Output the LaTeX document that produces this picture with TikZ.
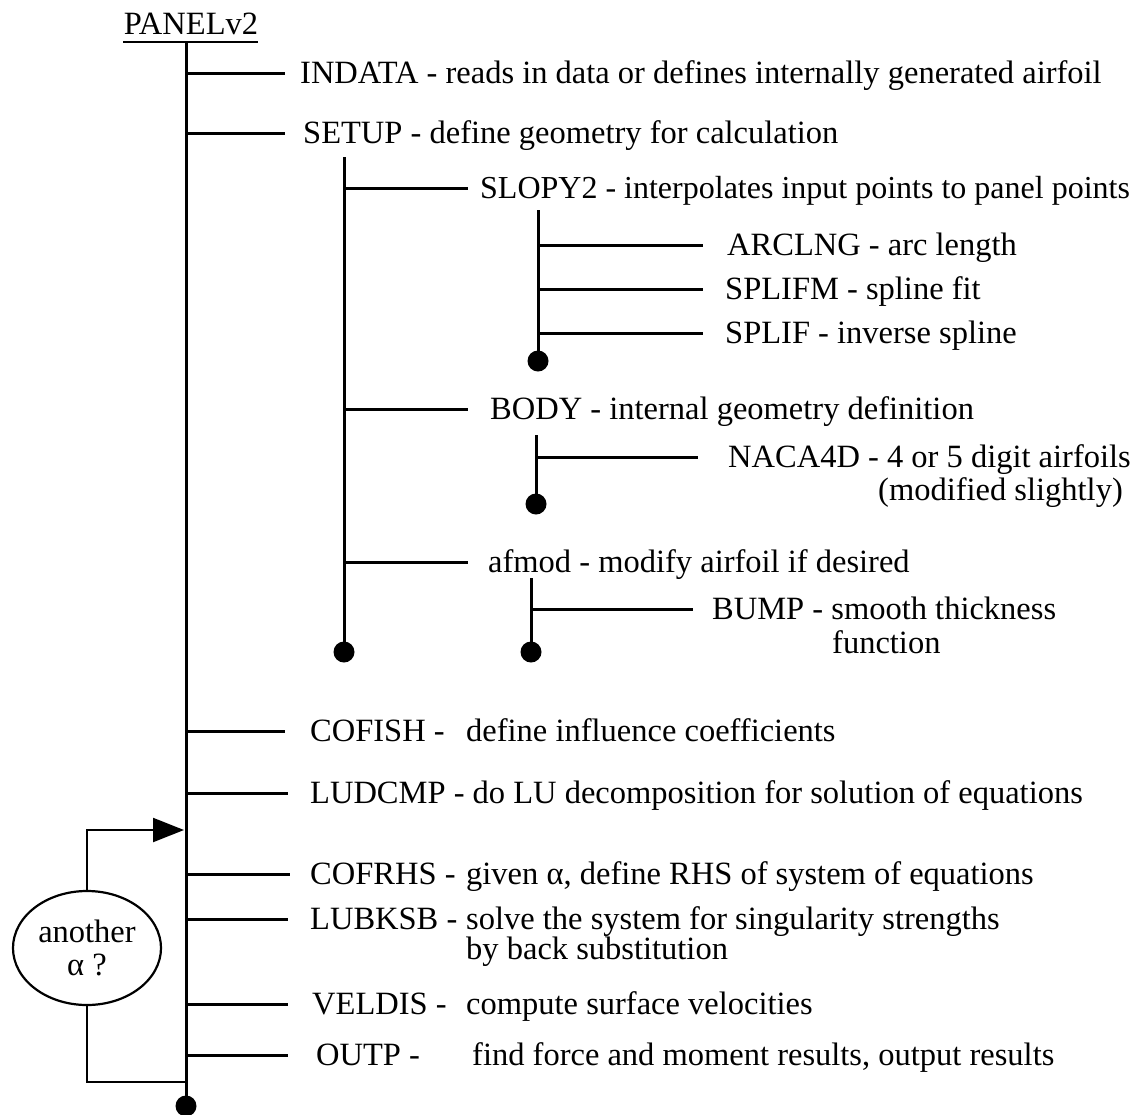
\documentclass[tikz,border=0pt]{standalone}
\usepackage{fontspec}
\setmainfont{Liberation Serif}
\usetikzlibrary{arrows.meta,shapes.geometric}

\tikzset{
  lbl/.style={anchor=west, inner sep=0pt, text height=28pt, text depth=6.5pt},
  rlbl/.style={lbl, anchor=east},
  trunk/.style={line width=3pt},
  stub/.style={line width=3pt},
  thinl/.style={line width=2.2pt},
  enddot/.style={circle, fill, inner sep=0pt, minimum size=21pt},
}

\begin{document}
\begin{tikzpicture}[x=1pt, y=-1pt, font=\fontsize{32.5}{33}\selectfont]
        \useasboundingbox (0,0) rectangle (1138,1114);

        % title and main line
        \node[inner sep=0pt, anchor=base] (panel) at (191,34) {PANELv2};
        \coordinate (ulleft) at (123,42);
        \coordinate (ulright) at (258,42);
        \coordinate (maintop) at (186,42);
        \node[enddot] (mainend) at (186,1106) {};

        \node[lbl] (indata) at (300,73) {INDATA - reads in data or defines internally generated airfoil};
        \node[lbl] (setup) at (303,133) {SETUP - define geometry for calculation};
        \node[lbl] (cofish) at (310,731) {COFISH -};
        \node[lbl] (cofishd) at (466,731) {define influence coefficients};
        \node[lbl] (ludcmp) at (310,793) {LUDCMP - do LU decomposition for solution of equations};
        \node[lbl] (cofrhs) at (310,874) {COFRHS -};
        \node[lbl] (cofrhsd) at (466,874) {given α, define RHS of system of equations};
        \node[lbl] (lubksb) at (310,919) {LUBKSB -};
        \node[lbl] (lubksbd) at (466,919) {solve the system for singularity strengths};
        \node[lbl] (lubksbe) at (466,949) {by back substitution};
        \node[lbl] (veldis) at (312,1004) {VELDIS -};
        \node[lbl] (veldisd) at (466,1004) {compute surface velocities};
        \node[lbl] (outp) at (316,1055) {OUTP -};
        \node[lbl] (outpd) at (472,1055) {find force and moment results, output results};

        % SETUP branch
        \coordinate (setuptop) at (344,157);
        \node[enddot] (setupend) at (344,652) {};
        \node[lbl, font=\fontsize{32}{33}\selectfont] (slopy) at (480,188) {SLOPY2 - interpolates input points to panel points};
        \node[lbl] (body) at (490,409) {BODY - internal geometry definition};
        \node[lbl] (afmod) at (488,562) {afmod - modify airfoil if desired};

        \coordinate (slopytop) at (538,210);
        \node[enddot] (slopyend) at (538,361) {};
        \node[lbl] (arclng) at (727,245) {ARCLNG - arc length};
        \node[lbl] (splifm) at (725,289) {SPLIFM - spline fit};
        \node[lbl] (splif) at (725,333) {SPLIF - inverse spline};

        \coordinate (bodytop) at (536,435);
        \node[enddot] (bodyend) at (536,504) {};
        \node[lbl] (naca) at (728,457) {NACA4D - 4 or 5 digit airfoils};
        \node[rlbl] (nacb) at (1123,490) {(modified slightly)};

        \coordinate (afmodtop) at (531,578);
        \node[enddot] (afmodend) at (531,652) {};
        \node[lbl] (bump) at (712,609) {BUMP - smooth thickness};
        \node[lbl] (bumpb) at (832,643) {function};

        % loop back for a new angle
        \node[ellipse, draw, thinl, minimum width=148pt, minimum height=114pt,
              inner sep=0pt, align=center] (ask) at (87,948) {another\\α ?};
        \coordinate (loopin) at (184,830);
        \coordinate (loopout) at (186,1082);

        \draw[stub, line width=2.5pt] (ulleft) -- (ulright);
        \draw[trunk] (maintop) -- (mainend.center);
        \draw[trunk] (setuptop) -- (setupend.center);
        \draw[trunk] (slopytop) -- (slopyend.center);
        \draw[trunk] (bodytop) -- (bodyend.center);
        \draw[trunk] (afmodtop) -- (afmodend.center);

        \draw[stub] (maintop |- indata.west) -- ([xshift=-15pt]indata.west);
        \draw[stub] (maintop |- setup.west) -- ([xshift=-18pt]setup.west);
        \draw[stub] (maintop |- cofish.west) -- ([xshift=-25pt]cofish.west);
        \draw[stub] (maintop |- ludcmp.west) -- ([xshift=-22pt]ludcmp.west);
        \draw[stub] (maintop |- cofrhs.west) -- ([xshift=-20pt]cofrhs.west);
        \draw[stub] (maintop |- lubksb.west) -- ([xshift=-22pt]lubksb.west);
        \draw[stub] (maintop |- veldis.west) -- ([xshift=-24pt]veldis.west);
        \draw[stub] (maintop |- outp.west) -- ([xshift=-28pt]outp.west);

        \draw[stub] (setuptop |- slopy.west) -- ([xshift=-12pt]slopy.west);
        \draw[stub] (setuptop |- body.west) -- ([xshift=-22pt]body.west);
        \draw[stub] (setuptop |- afmod.west) -- ([xshift=-20pt]afmod.west);

        \draw[stub] (slopytop |- arclng.west) -- ([xshift=-24pt]arclng.west);
        \draw[stub] (slopytop |- splifm.west) -- ([xshift=-22pt]splifm.west);
        \draw[stub] (slopytop |- splif.west) -- ([xshift=-22pt]splif.west);
        \draw[stub] (bodytop |- naca.west) -- ([xshift=-30pt]naca.west);
        \draw[stub] (afmodtop |- bump.west) -- ([xshift=-19pt]bump.west);

        \draw[thinl, -{Triangle[length=31pt, width=24pt]}] (ask.north) |- (loopin);
        \draw[thinl] (ask.south) |- (loopout);
\end{tikzpicture}
\end{document}
